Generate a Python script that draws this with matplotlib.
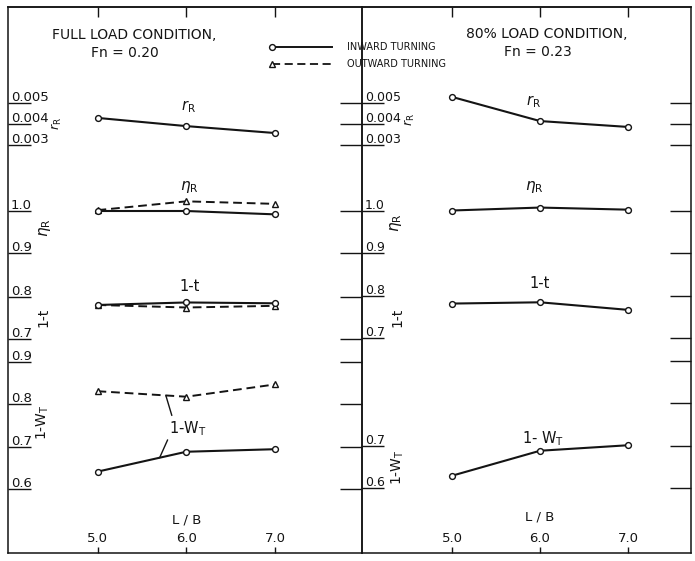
import matplotlib
matplotlib.use('Agg')
import matplotlib.pyplot as plt
from matplotlib.lines import Line2D
from matplotlib.legend_handler import HandlerLine2D
import numpy as np

W, H, DPI = 695, 561, 100

# ---------------- data ----------------
lb = [5.0, 6.0, 7.0]
lb_labels = ['5.0', '6.0', '7.0']

# full load condition, Fn = 0.20
full_rR_in = [0.00429, 0.00390, 0.00357]
full_eta_in = [1.000, 1.000, 0.992]
full_eta_out = [1.002, 1.023, 1.017]
full_t_in = [0.781, 0.787, 0.785]
full_t_out = [0.781, 0.775, 0.779]
full_w_in = [0.641, 0.688, 0.694]
full_w_out = [0.831, 0.818, 0.847]

# 80% load condition, Fn = 0.23
p80_rR_in = [0.00529, 0.00414, 0.00386]
p80_eta_in = [1.000, 1.007, 1.002]
p80_t_in = [0.782, 0.785, 0.767]
p80_w_in = [0.629, 0.688, 0.701]

rR_ticks = [0.005, 0.004, 0.003]
rR_labels = ['0.005', '0.004', '0.003']
eta_ticks = [1.0, 0.9]
eta_labels = ['1.0', '0.9']
t_ticks = [0.8, 0.7]
t_labels = ['0.8', '0.7']
w_ticks = [0.9, 0.8, 0.7, 0.6]
w_labels = ['0.9', '0.8', '0.7', '0.6']
w_ticks_r = [0.7, 0.6]
w_labels_r = ['0.7', '0.6']

# ---------------- helpers ----------------
INK = '#141414'
plt.rcParams['font.family'] = ['DejaVu Sans']
plt.rcParams['mathtext.fontset'] = 'dejavusans'

fig = plt.figure(figsize=(W / DPI, H / DPI), dpi=DPI)
fig.patch.set_facecolor('white')


def fx(px):
    return px / W


def fy(py):
    return 1 - py / H


def add_axes_px(x0, x1, ptop, pbot):
    return fig.add_axes([fx(x0), fy(pbot), fx(x1) - fx(x0), fy(ptop) - fy(pbot)])


def lin(va, pa, vb, pb):
    s = (vb - va) / (pb - pa)
    return lambda p: va + (p - pa) * s


TOP, BOT = 7, 553
PANELS = {
    'left': dict(x0=8, x1=362, xcal=(5.0, 97.5, 7.0, 275.0)),
    'right': dict(x0=362, x1=691, xcal=(5.0, 452.0, 7.0, 628.0)),
}


def make_frame(p, lbl_y_off, lb_y_off):
    ax = add_axes_px(p['x0'], p['x1'], TOP, BOT)
    f = lin(*p['xcal'])
    ax.set_xlim(f(p['x0']), f(p['x1']))
    ax.set_ylim(0, 1)
    ax.set_facecolor('none')
    ax.set_yticks([])
    ax.set_xticks(lb)
    ax.tick_params(axis='x', direction='in', length=4.5, width=1.0,
                   labelbottom=False, top=False, color=INK)
    sec = ax.secondary_xaxis('top')
    sec.set_xticks(lb)
    sec.tick_params(direction='in', length=7.5, width=1.0, labeltop=False, color=INK)
    for s in list(ax.spines.values()) + list(sec.spines.values()):
        s.set_linewidth(1.1)
        s.set_color(INK)
    tr = ax.get_xaxis_transform()
    for v, s in zip(lb, lb_labels):
        ax.annotate(s, xy=(v, 0), xycoords=tr, xytext=(0, lbl_y_off),
                    textcoords='offset pixels', ha='center', va='center',
                    fontsize=9.5, color=INK)
    ax.annotate('L / B', xy=(6.0, 0), xycoords=tr, xytext=(0, lb_y_off),
                textcoords='offset pixels', ha='center', va='center',
                fontsize=9.5, color=INK)
    return ax


def make_row(p, ycal, ptop, pbot, ticks, labelled, labels, left_len, right_len,
             label_dx, label_fs):
    ax = add_axes_px(p['x0'], p['x1'], ptop, pbot)
    fxd = lin(*p['xcal'])
    fyd = lin(*ycal)
    ax.set_xlim(fxd(p['x0']), fxd(p['x1']))
    ax.set_ylim(fyd(pbot), fyd(ptop))
    ax.set_facecolor('none')
    for s in ax.spines.values():
        s.set_visible(False)
    ax.set_xticks([])
    ax.yaxis.remove_overlapping_locs = False
    ax.set_yticks(ticks)
    ax.set_yticks(labelled, minor=True)
    ax.tick_params(axis='y', which='major', left=False, right=right_len > 0,
                   direction='in', length=right_len, width=1.0,
                   labelleft=False, labelright=False, color=INK)
    ax.tick_params(axis='y', which='minor', left=True, right=False,
                   direction='in', length=left_len, width=1.0,
                   labelleft=False, labelright=False, color=INK)
    tr = ax.get_yaxis_transform()
    for v, s in zip(labelled, labels):
        ax.annotate(s, xy=(0, v), xycoords=tr, xytext=(label_dx, 2),
                    textcoords='offset pixels', ha='left', va='baseline',
                    fontsize=label_fs, color=INK)
    return ax


def plot_in(ax, y):
    ax.plot(lb, y, '-', color=INK, lw=1.5, marker='o', ms=4.2,
            mfc='white', mec=INK, mew=1.0, clip_on=False, zorder=3)


def plot_out(ax, y):
    ax.plot(lb, y, color=INK, lw=1.4, ls=(0, (4.5, 2.5)), marker='^', ms=5.0,
            mfc='white', mec=INK, mew=1.0, clip_on=False, zorder=3)


# ---------------- frames ----------------
L, R = PANELS['left'], PANELS['right']
make_frame(L, 15, 33)
make_frame(R, 15, 36)

# ---------------- left panel rows ----------------
UL = 16.5   # underline length (pt)
RL = 15.8   # right-side tick length (pt)
FL = 9.5
axL_r = make_row(L, (0.005, 103, 0.003, 145), 85, 160, rR_ticks, rR_ticks, rR_labels, UL, RL, 3, FL)
axL_e = make_row(L, (1.0, 211, 0.9, 253), 180, 268, eta_ticks, eta_ticks, eta_labels, UL, RL, 3, FL)
axL_t = make_row(L, (0.8, 297, 0.7, 339), 275, 348, t_ticks, t_ticks, t_labels, UL, RL, 3, FL)
axL_w = make_row(L, (0.9, 362, 0.6, 489), 352, 500, w_ticks, w_ticks, w_labels, UL, RL, 3, FL)

plot_in(axL_r, full_rR_in)
plot_out(axL_e, full_eta_out)
plot_in(axL_e, full_eta_in)
plot_out(axL_t, full_t_out)
plot_in(axL_t, full_t_in)
plot_out(axL_w, full_w_out)
plot_in(axL_w, full_w_in)

axL_r.text(6.02, 0.00481, r'$r_{\rm R}$', ha='center', va='center', fontsize=10.5, color=INK)
axL_e.text(6.04, 1.057, r'$\eta_{\rm R}$', ha='center', va='center', fontsize=11, color=INK)
axL_t.text(6.04, 0.824, '1-t', ha='center', va='center', fontsize=10.5, color=INK)

# 1-W_T label with leader lines to both curves
lab_xy = (6.02, 0.742)
x_up, x_dn = 5.77, 5.70
axL_w.annotate(r'1-W$_{\rm T}$', xy=(x_up, np.interp(x_up, lb, full_w_out)),
               xytext=lab_xy, ha='center', va='center', fontsize=10.5, color=INK,
               arrowprops=dict(arrowstyle='-', color=INK, lw=1.0,
                               shrinkA=1, shrinkB=0, relpos=(0.1, 1.0)))
axL_w.annotate('', xy=(x_dn, np.interp(x_dn, lb, full_w_in)),
               xytext=(5.79, 0.716), color=INK,
               arrowprops=dict(arrowstyle='-', color=INK, lw=1.0,
                               shrinkA=0, shrinkB=0))

# ---------------- right panel rows ----------------
UR = 16.0
RR = 15.0
FR = 9.0
axR_r = make_row(R, (0.005, 103, 0.003, 145), 85, 160, rR_ticks, rR_ticks, rR_labels, UR, RR, 3, FR)
axR_e = make_row(R, (1.0, 210.5, 0.9, 252.5), 180, 268, eta_ticks, eta_ticks, eta_labels, UR, RR, 3, FR)
axR_t = make_row(R, (0.8, 296, 0.7, 338), 275, 348, t_ticks, t_ticks, t_labels, UR, RR, 3, FR)
axR_w = make_row(R, (0.9, 361, 0.6, 488), 352, 500, w_ticks, w_ticks_r, w_labels_r, UR, RR, 3, FR)

plot_in(axR_r, p80_rR_in)
plot_in(axR_e, p80_eta_in)
plot_in(axR_t, p80_t_in)
plot_in(axR_w, p80_w_in)

axR_r.text(5.93, 0.00505, r'$r_{\rm R}$', ha='center', va='center', fontsize=10.5, color=INK)
axR_e.text(5.94, 1.057, r'$\eta_{\rm R}$', ha='center', va='center', fontsize=11, color=INK)
axR_t.text(6.0, 0.829, '1-t', ha='center', va='center', fontsize=10.5, color=INK)
axR_w.text(6.03, 0.717, r'1- W$_{\rm T}$', ha='center', va='center', fontsize=10.5, color=INK)

# ---------------- rotated axis titles ----------------
ylabels = [
    (57, 124, r'$r_{\rm R}$', 9), (45, 228, r'$\eta_{\rm R}$', 11),
    (43, 317, '1-t', 10), (43, 422, r'1-W$_{\rm T}$', 10),
    (410, 120, r'$r_{\rm R}$', 9), (396, 223, r'$\eta_{\rm R}$', 11),
    (397, 317, '1-t', 10), (398, 467, r'1-W$_{\rm T}$', 10),
]
for x, y, s, fs in ylabels:
    fig.text(fx(x), fy(y), s, rotation=90, ha='center', va='center',
             fontsize=fs, color=INK)

# ---------------- titles ----------------
fig.text(fx(134), fy(35), 'FULL LOAD CONDITION,', ha='center', va='center',
         fontsize=10, color=INK)
fig.text(fx(125), fy(53), 'Fn = 0.20', ha='center', va='center',
         fontsize=10, color=INK)
fig.text(fx(547), fy(34), '80% LOAD CONDITION,', ha='center', va='center',
         fontsize=10, color=INK)
fig.text(fx(538), fy(52), 'Fn = 0.23', ha='center', va='center',
         fontsize=10, color=INK)


# ---------------- legend ----------------
class HandlerLeftMarker(HandlerLine2D):
    def create_artists(self, legend, orig_handle, xdescent, ydescent,
                       width, height, fontsize, trans):
        arts = super().create_artists(legend, orig_handle, xdescent, ydescent,
                                      width, height, fontsize, trans)
        for a in arts:
            if isinstance(a, Line2D) and a.get_marker() not in (None, 'None', ''):
                a.set_markevery([0])
        return arts


h_in = Line2D([], [], color=INK, lw=1.4, marker='o', ms=4.2, mfc='white',
              mec=INK, mew=1.0)
h_out = Line2D([], [], color=INK, lw=1.3, ls=(0, (4.5, 2.5)), marker='^', ms=5.0,
               mfc='white', mec=INK, mew=1.0)
leg = fig.legend([h_in, h_out], ['INWARD TURNING', 'OUTWARD TURNING'],
                 loc='upper left', bbox_to_anchor=(fx(272), fy(42)),
                 frameon=False, fontsize=7, handlelength=6.2, handletextpad=1.5,
                 labelspacing=0.75, borderpad=0, borderaxespad=0, numpoints=1,
                 handler_map={Line2D: HandlerLeftMarker()})
for t in leg.get_texts():
    t.set_color(INK)

fig.savefig('out.png', dpi=DPI, facecolor='white')
